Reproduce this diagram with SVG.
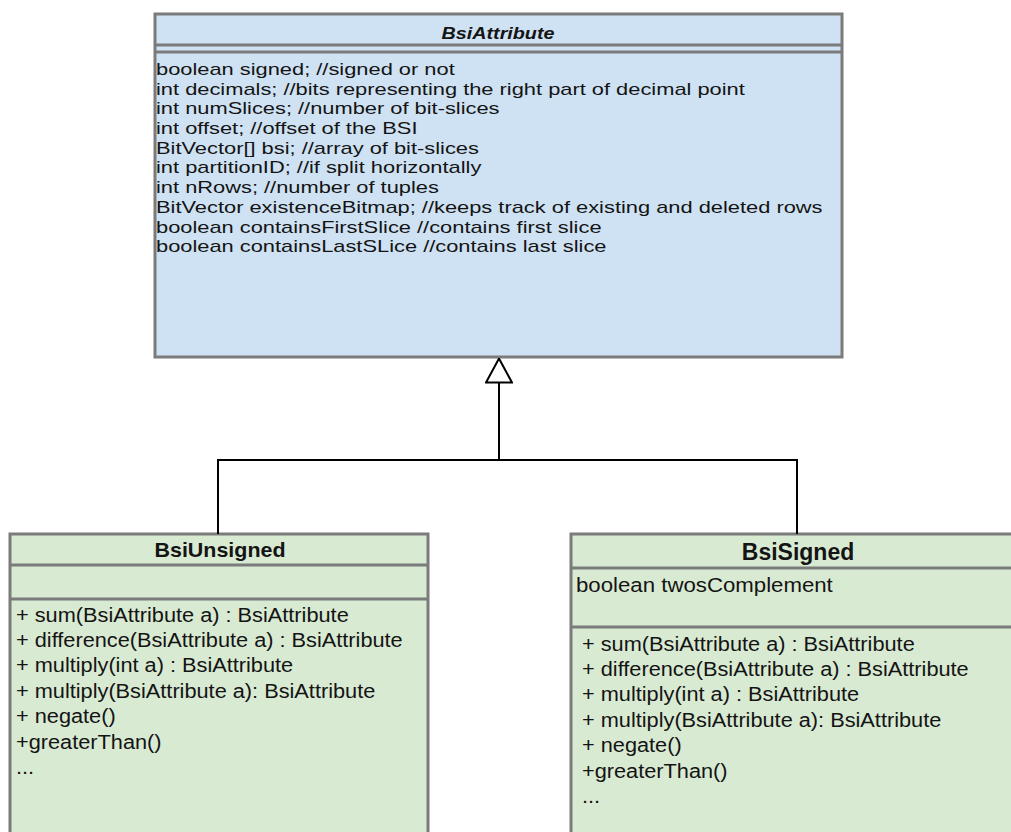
<svg xmlns="http://www.w3.org/2000/svg" width="1011" height="832" viewBox="0 0 1011 832">
  <style>
    .box { stroke: #7b7b7b; stroke-width: 3; }
    .blue { fill: #cfe2f3; }
    .green { fill: #d9ead3; }
    .sep { stroke: #7b7b7b; stroke-width: 3; fill: none; }
    .txt { font-family: "Liberation Sans", Arial, sans-serif; fill: #141414; }
    .attr { font-size: 16px; }
    .meth { font-size: 19.5px; }
    .title { font-weight: bold; text-anchor: middle; }
    .edge { stroke: #000; stroke-width: 2; fill: none; }
  </style>
  <defs>
    <marker id="inherit" viewBox="0 0 26 28" refX="25" refY="14" markerWidth="26" markerHeight="28" markerUnits="userSpaceOnUse" orient="auto">
      <path d="M1,1 L25,14 L1,27 Z" fill="#fff" stroke="#000" stroke-width="2"/>
    </marker>
  </defs>

  <rect width="1011" height="832" fill="#fff"/>

  <!-- abstract base class -->
  <g id="BsiAttribute">
    <rect class="box blue" x="155" y="14" width="687" height="343"/>
    <line class="sep" x1="155" y1="45" x2="842" y2="45"/>
    <line class="sep" x1="155" y1="52" x2="842" y2="52"/>
    <text class="txt title" font-style="italic" font-size="17px" transform="translate(498 38.5) scale(1.16 1)" x="0" y="0">BsiAttribute</text>
    <g class="txt attr" transform="translate(156 0) scale(1.366 1)">
      <text x="0" y="75">boolean signed; //signed or not</text>
      <text x="0" y="94.7">int decimals; //bits representing the right part of decimal point</text>
      <text x="0" y="114.4">int numSlices; //number of bit-slices</text>
      <text x="0" y="134.1">int offset; //offset of the BSI</text>
      <text x="0" y="153.8">BitVector[] bsi; //array of bit-slices</text>
      <text x="0" y="173.5">int partitionID; //if split horizontally</text>
      <text x="0" y="193.2">int nRows; //number of tuples</text>
      <text x="0" y="212.9">BitVector existenceBitmap; //keeps track of existing and deleted rows</text>
      <text x="0" y="232.6">boolean containsFirstSlice //contains first slice</text>
      <text x="0" y="252.3">boolean containsLastSLice //contains last slice</text>
    </g>
  </g>

  <!-- unsigned subclass -->
  <g id="BsiUnsigned">
    <rect class="box green" x="10" y="534" width="418" height="310"/>
    <line class="sep" x1="10" y1="565" x2="428" y2="565"/>
    <line class="sep" x1="10" y1="599" x2="428" y2="599"/>
    <text class="txt title" font-size="19.5px" transform="translate(220 556.5) scale(1.1 1)" x="0" y="0">BsiUnsigned</text>
    <g class="txt meth" transform="translate(16 0) scale(1.115 1)">
      <text x="0" y="621.7">+ sum(BsiAttribute a) : BsiAttribute</text>
      <text x="0" y="647.1">+ difference(BsiAttribute a) : BsiAttribute</text>
      <text x="0" y="672.5">+ multiply(int a) : BsiAttribute</text>
      <text x="0" y="697.9">+ multiply(BsiAttribute a): BsiAttribute</text>
      <text x="0" y="723.3">+ negate()</text>
      <text x="0" y="748.7">+greaterThan()</text>
      <text x="0" y="774.1">...</text>
    </g>
  </g>

  <!-- signed subclass -->
  <g id="BsiSigned">
    <rect class="box green" x="571" y="534" width="460" height="310"/>
    <line class="sep" x1="571" y1="568" x2="1031" y2="568"/>
    <line class="sep" x1="571" y1="627" x2="1031" y2="627"/>
    <text class="txt title" font-size="23px" transform="translate(798 559.5)" x="0" y="0">BsiSigned</text>
    <g class="txt meth" transform="translate(576 0) scale(1.14 1)">
      <text x="0" y="591.7">boolean twosComplement</text>
    </g>
    <g class="txt meth" transform="translate(582 0) scale(1.115 1)">
      <text x="0" y="650.7">+ sum(BsiAttribute a) : BsiAttribute</text>
      <text x="0" y="676.1">+ difference(BsiAttribute a) : BsiAttribute</text>
      <text x="0" y="701.5">+ multiply(int a) : BsiAttribute</text>
      <text x="0" y="726.9">+ multiply(BsiAttribute a): BsiAttribute</text>
      <text x="0" y="752.3">+ negate()</text>
      <text x="0" y="777.7">+greaterThan()</text>
      <text x="0" y="803.1">...</text>
    </g>
  </g>

  <!-- generalization connectors -->
  <g id="connectors">
    <path class="edge" d="M218,534 V460 H797 V534"/>
    <path class="edge" d="M499,460 V358.5" marker-end="url(#inherit)"/>
  </g>
</svg>
